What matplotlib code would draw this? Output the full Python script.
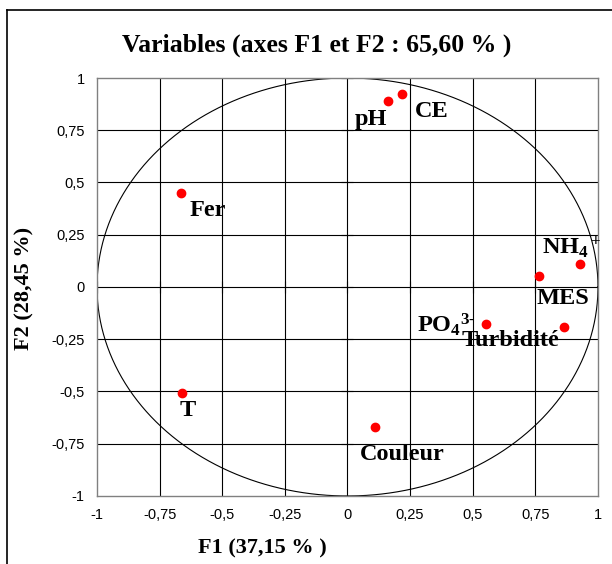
import matplotlib
matplotlib.use("Agg")
import matplotlib.pyplot as plt
import numpy as np
from matplotlib.lines import Line2D

plt.rcParams['mathtext.fontset'] = 'custom'
plt.rcParams['mathtext.rm'] = 'Liberation Serif:bold'
plt.rcParams['mathtext.it'] = 'Liberation Serif:bold'
plt.rcParams['mathtext.bf'] = 'Liberation Serif:bold'

# coordonnees des variables sur F1 / F2
variables = ['Fer', 'T', 'pH', 'CE', 'Couleur', r'PO$_4$$^{3\text{-}}$', 'MES', r'NH$_4$$^+$', 'Turbidité']
f1 = [-0.665, -0.66, 0.16, 0.217, 0.11, 0.553, 0.764, 0.928, 0.864]
f2 = [0.45, -0.507, 0.89, 0.923, -0.67, -0.177, 0.053, 0.11, -0.19]
# position des etiquettes
lab_x = [-0.63, -0.67, 0.03, 0.27, 0.05, 0.277, 0.756, 0.776, 0.457]
lab_y = [0.368, -0.589, 0.80, 0.84, -0.80, -0.18, -0.053, 0.19, -0.258]

ticks = [-1, -0.75, -0.5, -0.25, 0, 0.25, 0.5, 0.75, 1]
tick_labels = ['-1', '-0,75', '-0,5', '-0,25', '0', '0,25', '0,5', '0,75', '1']

serif = 'Liberation Serif'

fig = plt.figure(figsize=(6.12, 5.64), dpi=100)
ax = fig.add_axes([0.1585, 0.1206, 0.8186, 0.7411])

for t in ticks[1:-1]:
    ax.axvline(t, color='black', lw=0.8, zorder=1)
    ax.axhline(t, color='black', lw=0.8, zorder=1)
# petites graduations sur les axes 0
ax.plot([0] * len(ticks), ticks, marker='_', ms=8, color='black', ls='none', mew=0.8)
ax.plot(ticks, [0] * len(ticks), marker='|', ms=8, color='black', ls='none', mew=0.8)

a = np.linspace(0, 2 * np.pi, 400)
ax.plot(np.cos(a), np.sin(a), color='black', lw=0.8, zorder=2)

ax.plot(f1, f2, 'o', color='red', ms=6, zorder=3)
for name, x, y in zip(variables, lab_x, lab_y):
    ax.text(x, y, name, fontsize=17.5, family=serif, weight='bold', va='center', ha='left', zorder=4)

ax.set_xlim(-1, 1)
ax.set_ylim(-1, 1)
ax.set_xticks(ticks)
ax.set_yticks(ticks)
ax.set_xticklabels(tick_labels, family='Liberation Sans', fontsize=10.5)
ax.set_yticklabels(tick_labels, family='Liberation Sans', fontsize=10.5)
ax.tick_params(length=0, pad=9)
for s in ax.spines.values():
    s.set_color('#808080')
    s.set_linewidth(1)

fig.text(0.518, 0.920, 'Variables (axes F1 et F2 : 65,60 % )', ha='center', va='center',
         family=serif, weight='bold', fontsize=18.5)
fig.text(0.428, 0.028, 'F1 (37,15 % )', ha='center', va='center',
         family=serif, weight='bold', fontsize=16)
fig.text(0.040, 0.489, 'F2 (28,45 %)', ha='center', va='center', rotation=90,
         family=serif, weight='bold', fontsize=16)

# cadre exterieur
fig.add_artist(Line2D([0.0115, 1.0], [0.982, 0.982], color='black', lw=1.2))
fig.add_artist(Line2D([0.0115, 0.0115], [0.0, 0.982], color='black', lw=1.2))

fig.savefig('out.png', dpi=100)
